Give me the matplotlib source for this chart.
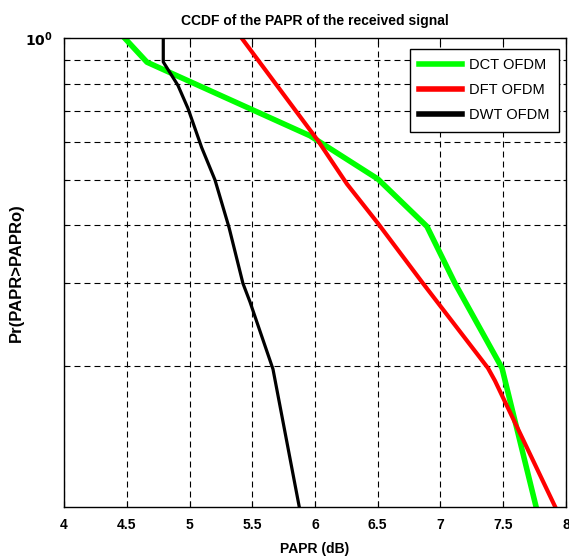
import matplotlib
matplotlib.use("Agg")
import matplotlib.pyplot as plt
from matplotlib.ticker import FixedLocator, NullFormatter, FixedFormatter

plt.rcParams['font.family'] = ['Liberation Sans', 'DejaVu Sans']
plt.rcParams['lines.scale_dashes'] = False

# CCDF curves (PAPR in dB, probability)
dct_papr = [4.486, 4.661, 5.960, 6.502, 6.892, 7.116, 7.490, 7.769]
dct_prob = [1.0, 0.890, 0.620, 0.501, 0.397, 0.300, 0.198, 0.0983]

dft_papr = [5.418, 6.024, 6.255, 6.502, 6.861, 7.378, 7.434, 7.928]
dft_prob = [1.0, 0.605, 0.489, 0.403, 0.300, 0.198, 0.186, 0.0983]

dwt_papr = [4.791, 4.791, 4.908, 4.988, 5.097, 5.203, 5.315, 5.426, 5.482, 5.665, 5.880]
dwt_prob = [1.0, 0.891, 0.794, 0.709, 0.585, 0.499, 0.395, 0.300, 0.274, 0.197, 0.0983]

xticks = [4, 4.5, 5, 5.5, 6, 6.5, 7, 7.5, 8]
xticklabels = ['4', '4.5', '5', '5.5', '6', '6.5', '7', '7.5', '8']
ygrid = [0.2, 0.3, 0.4, 0.5, 0.6, 0.7, 0.8, 0.9]

fig = plt.figure(figsize=(5.69, 5.56), dpi=100)
ax = fig.add_axes([0.1125, 0.0881, 0.8822, 0.8427])

ax.plot(dct_papr, dct_prob, color=(0, 1, 0), lw=4, label='DCT OFDM', solid_joinstyle='round')
ax.plot(dft_papr, dft_prob, color=(1, 0, 0), lw=3, label='DFT OFDM', solid_joinstyle='round')
ax.plot(dwt_papr, dwt_prob, color='k', lw=2.3, label='DWT OFDM', solid_joinstyle='round')

ax.set_yscale('log')
ax.set_xlim(4, 8)
ax.set_ylim(0.1, 1)

ax.xaxis.set_major_locator(FixedLocator(xticks))
ax.xaxis.set_major_formatter(FixedFormatter(xticklabels))
ax.yaxis.set_major_locator(FixedLocator([1]))
ax.yaxis.set_major_formatter(FixedFormatter([r'$\mathbf{10^{0}}$']))
ax.yaxis.set_minor_locator(FixedLocator(ygrid))
ax.yaxis.set_minor_formatter(NullFormatter())

ax.tick_params(which='both', direction='in', top=True, right=True, width=0.8)
ax.tick_params(which='major', length=4)
ax.tick_params(which='minor', length=2.5)
ax.tick_params(axis='both', labelsize=10, pad=8)
for lab in ax.get_xticklabels() + ax.get_yticklabels():
    lab.set_fontweight('bold')

ax.grid(True, which='major', axis='x', color='k', lw=0.8, linestyle=(0, (4.3, 2.9)))
ax.grid(True, which='minor', axis='y', color='k', lw=0.8, linestyle=(0, (4.3, 2.9)))
for s in ax.spines.values():
    s.set_linewidth(1.0)

ax.set_title('CCDF of the PAPR of the received signal', fontsize=10, fontweight='bold', pad=10)
ax.set_xlabel('PAPR (dB)', fontsize=10, fontweight='bold', labelpad=7)
ax.set_ylabel('Pr(PAPR>PAPRo)', fontsize=12, fontweight='bold', va='center')
ax.yaxis.set_label_coords(-0.094, 0.5)

leg = ax.legend(loc='upper right', bbox_to_anchor=(0.986, 0.978), borderaxespad=0, fontsize=10.5,
                fancybox=False, framealpha=1, edgecolor='k', handlelength=2.9, handletextpad=0.5,
                labelspacing=0.75, borderpad=0.65)
leg.get_frame().set_linewidth(1.0)
for h in leg.get_lines():
    h.set_linewidth(4)

fig.savefig('out.png', dpi=100)
